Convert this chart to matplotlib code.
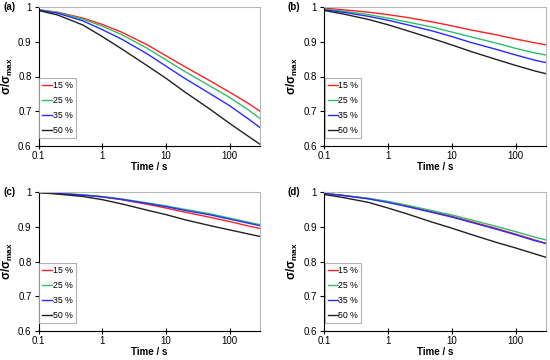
import matplotlib
matplotlib.use("Agg")
import matplotlib.pyplot as plt

plt.rcParams['font.family'] = ['Liberation Sans', 'DejaVu Sans']
plt.rcParams['mathtext.fontset'] = 'custom'
plt.rcParams['mathtext.rm'] = 'Liberation Sans'
plt.rcParams['mathtext.bf'] = 'Liberation Sans:bold'
plt.rcParams['mathtext.it'] = 'Liberation Sans:italic'

time_s = [0.1, 0.2, 0.5, 1, 2, 5, 10, 20, 50, 100, 200, 300]
labels = ["15 %", "25 %", "35 %", "50 %"]
colors = ["#ff2020", "#2dbd6e", "#2a2aff", "#202020"]
panel_names = ["(a)", "(b)", "(c)", "(d)"]
x_ticks = [0.1, 1, 10, 100]
x_ticklabels = ["0.1", "1", "10", "100"]
y_ticks = [0.6, 0.7, 0.8, 0.9, 1.0]
y_ticklabels = ["0.6", "0.7", "0.8", "0.9", "1"]

a_15 = [.992, .985, .968, .950, .928, .892, .860, .828, .787, .755, .722, .700]
a_25 = [.992, .984, .965, .945, .921, .882, .848, .814, .772, .740, .703, .679]
a_35 = [.991, .982, .960, .935, .908, .866, .830, .794, .750, .716, .677, .653]
a_50 = [.990, .977, .948, .915, .880, .832, .795, .755, .705, .665, .627, .605]

b_15 = [.997, .992, .985, .978, .970, .957, .946, .934, .920, .908, .897, .891]
b_25 = [.994, .988, .978, .968, .957, .942, .928, .914, .896, .881, .868, .862]
b_35 = [.992, .985, .973, .962, .949, .931, .915, .898, .878, .862, .847, .840]
b_50 = [.990, .980, .964, .949, .932, .909, .891, .872, .849, .832, .816, .808]

c_15 = [.999, .996, .991, .986, .978, .965, .954, .942, .927, .915, .902, .895]
c_25 = [.999, .996, .992, .987, .980, .969, .960, .950, .937, .925, .913, .906]
c_35 = [.999, .996, .991, .986, .979, .967, .958, .947, .934, .922, .910, .903]
c_50 = [.998, .994, .987, .978, .966, .948, .935, .920, .903, .891, .879, .872]

d_15 = [.996, .990, .981, .971, .960, .943, .930, .915, .895, .879, .862, .852]
d_25 = [.996, .990, .982, .973, .962, .946, .934, .920, .901, .886, .870, .862]
d_35 = [.996, .990, .980, .970, .958, .941, .928, .913, .893, .877, .860, .852]
d_50 = [.993, .984, .970, .954, .937, .913, .896, .878, .855, .839, .822, .812]

panels = [[a_15, a_25, a_35, a_50],
          [b_15, b_25, b_35, b_50],
          [c_15, c_25, c_35, c_50],
          [d_15, d_25, d_35, d_50]]

fig = plt.figure(figsize=(5.5, 3.6), dpi=100)
W, H = 550, 360
# axes boxes in pixels: left, top, right, bottom
boxes = [(38.5, 7, 260, 146), (324, 7, 546, 146),
         (38.5, 192, 260, 331), (324, 192, 546, 331)]
label_pos = [(3, 7), (288, 7), (3, 192), (288, 192)]

for i in range(4):
    l, t, r, b = boxes[i]
    ax = fig.add_axes([l / W, 1 - b / H, (r - l) / W, (b - t) / H])
    for series, lab, col in zip(panels[i], labels, colors):
        ax.plot(time_s, series, color=col, lw=1.0, label=lab)
    ax.set_xscale('log')
    ax.set_xlim(0.1, 300)
    ax.set_ylim(0.6, 1.0)
    ax.set_xticks(x_ticks)
    ax.set_xticklabels(x_ticklabels)
    ax.xaxis.set_minor_locator(matplotlib.ticker.NullLocator())
    ax.set_yticks(y_ticks)
    ax.set_yticklabels(y_ticklabels)
    ax.tick_params(axis='x', which='major', labelsize=7, length=4,
                   width=0.8, direction='inout', pad=1.5)
    ax.tick_params(axis='y', which='major', labelsize=7, length=3,
                   width=0.8, direction='out', pad=2)
    ax.spines['top'].set_color('#b8b8b8')
    ax.spines['right'].set_color('#b8b8b8')
    ax.spines['left'].set_linewidth(0.8)
    ax.spines['bottom'].set_linewidth(0.8)
    ax.set_xlabel('Time / s', fontsize=7, fontweight='bold', labelpad=0.5)
    ax.set_ylabel(r'$\mathbf{σ/σ_{max}}$', fontsize=8.5, labelpad=2.5)
    leg = ax.legend(loc='lower left', bbox_to_anchor=(0.004, 0.055),
                    fontsize=6.3, frameon=True, fancybox=False,
                    handlelength=1.1, handletextpad=0.1, labelspacing=0.7,
                    borderpad=0.35, borderaxespad=0.0)
    leg.get_frame().set_edgecolor('#a0a0a0')
    leg.get_frame().set_linewidth(0.8)
    lx, ly = label_pos[i]
    fig.text(lx / W, 1 - ly / H, panel_names[i], fontsize=7,
             fontweight='bold', ha='left', va='center')

fig.savefig('out.png', dpi=100)
